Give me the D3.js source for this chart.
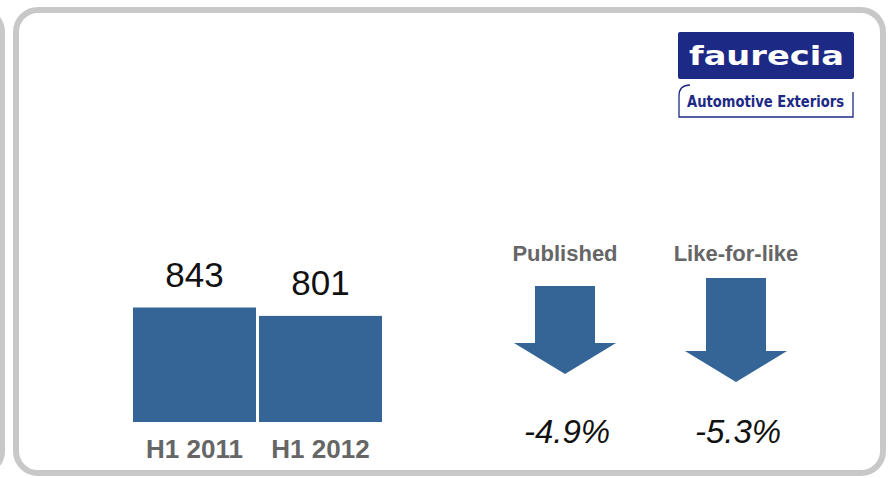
<!DOCTYPE html>
<html>
<head>
<meta charset="utf-8">
<script src="https://cdn.jsdelivr.net/npm/d3@7"></script>
<style>
  html, body { margin: 0; padding: 0; background: #ffffff; }
  svg { display: block; }
</style>
</head>
<body>
<svg id="chart" width="888" height="478"></svg>
<script>
// Automotive Exteriors sales, H1 2011 vs H1 2012 (€m)
const categories = ["H1 2011", "H1 2012"];
const sales = [843, 801];

// Year-on-year change
const changeLabels = ["Published", "Like-for-like"];
const changes = [-4.9, -5.3];

const BLUE = "#346596";
const NAVY = "#1d2a85";
const FRAME = "#c8c8c8";
const SANS = "'Liberation Sans', Arial, sans-serif";

const svg = d3.select("#chart");

// Panel frames
svg.append("rect")
  .attr("x", -300).attr("y", 10).attr("width", 302).attr("height", 463)
  .attr("rx", 22).attr("fill", "#ffffff")
  .attr("stroke", FRAME).attr("stroke-width", 6);
svg.append("rect")
  .attr("x", 16).attr("y", 10).attr("width", 867).attr("height", 463)
  .attr("rx", 22).attr("fill", "#ffffff")
  .attr("stroke", FRAME).attr("stroke-width", 6);

// Logo
const logo = svg.append("g");
logo.append("rect")
  .attr("x", 678).attr("y", 32).attr("width", 176).attr("height", 47)
  .attr("rx", 2).attr("fill", NAVY);
logo.append("text")
  .attr("x", 689).attr("y", 65)
  .attr("textLength", 155).attr("lengthAdjust", "spacingAndGlyphs")
  .attr("font-family", "'DejaVu Sans', Verdana, sans-serif")
  .attr("font-weight", "bold").attr("font-size", 27)
  .attr("fill", "#ffffff")
  .text("faurecia");
logo.append("path")
  .attr("d", "M690,85 Q679,85 679,96 L679,117 L853,117 L853,92")
  .attr("fill", "none").attr("stroke", NAVY).attr("stroke-width", 1.3);
logo.append("text")
  .attr("x", 687).attr("y", 107)
  .attr("textLength", 157).attr("lengthAdjust", "spacingAndGlyphs")
  .attr("font-family", "'DejaVu Sans', Verdana, sans-serif")
  .attr("font-weight", "bold").attr("font-size", 16.5)
  .attr("fill", NAVY)
  .text("Automotive Exteriors");

// Bars
const x = d3.scaleBand().domain(categories).range([133, 382]).paddingInner(0.024);
const y = d3.scaleLinear().domain([270, 843]).range([422, 307.5]);

const bars = svg.append("g");
bars.selectAll("rect")
  .data(categories)
  .join("rect")
  .attr("x", d => x(d))
  .attr("width", x.bandwidth())
  .attr("y", (d, i) => y(sales[i]))
  .attr("height", (d, i) => y.range()[0] - y(sales[i]))
  .attr("fill", BLUE);

bars.selectAll("text.value")
  .data(categories)
  .join("text")
  .attr("class", "value")
  .attr("x", d => x(d) + x.bandwidth() / 2)
  .attr("y", (d, i) => y(sales[i]) - 21)
  .attr("text-anchor", "middle")
  .attr("font-family", SANS).attr("font-size", 35)
  .attr("fill", "#111111")
  .text((d, i) => sales[i]);

bars.selectAll("text.cat")
  .data(categories)
  .join("text")
  .attr("class", "cat")
  .attr("x", d => x(d) + x.bandwidth() / 2)
  .attr("y", 458)
  .attr("text-anchor", "middle")
  .attr("font-family", SANS).attr("font-weight", "bold").attr("font-size", 26)
  .attr("fill", "#666666")
  .text(d => d);

// Change arrows
const ax = d3.scalePoint().domain(changeLabels).range([565, 736]);
const shaft = d3.scaleLinear().domain([4.9, 5.3]).range([57, 73]);
const shaftW = 60, headW = 102, headH = 31, midY = 330;
const pct = v => d3.format(".1f")(v).replace("\u2212", "-") + "%";

const arrows = svg.append("g");
changeLabels.forEach((lab, i) => {
  const cx = ax(lab);
  const len = shaft(Math.abs(changes[i]));
  const top = midY - (len + headH) / 2;
  const sy = top + len;
  const pts = [
    [cx - shaftW / 2, top], [cx + shaftW / 2, top], [cx + shaftW / 2, sy],
    [cx + headW / 2, sy], [cx, sy + headH], [cx - headW / 2, sy],
    [cx - shaftW / 2, sy]
  ];
  arrows.append("path")
    .attr("d", d3.line()(pts) + "Z")
    .attr("fill", BLUE);
  arrows.append("text")
    .attr("x", cx).attr("y", 261)
    .attr("text-anchor", "middle")
    .attr("font-family", SANS).attr("font-weight", "bold").attr("font-size", 22)
    .attr("fill", "#666666")
    .text(lab);
  arrows.append("text")
    .attr("x", cx + 2).attr("y", 443)
    .attr("text-anchor", "middle")
    .attr("font-family", SANS).attr("font-style", "italic").attr("font-size", 33)
    .attr("fill", "#111111")
    .text(pct(changes[i]));
});
</script>
</body>
</html>
